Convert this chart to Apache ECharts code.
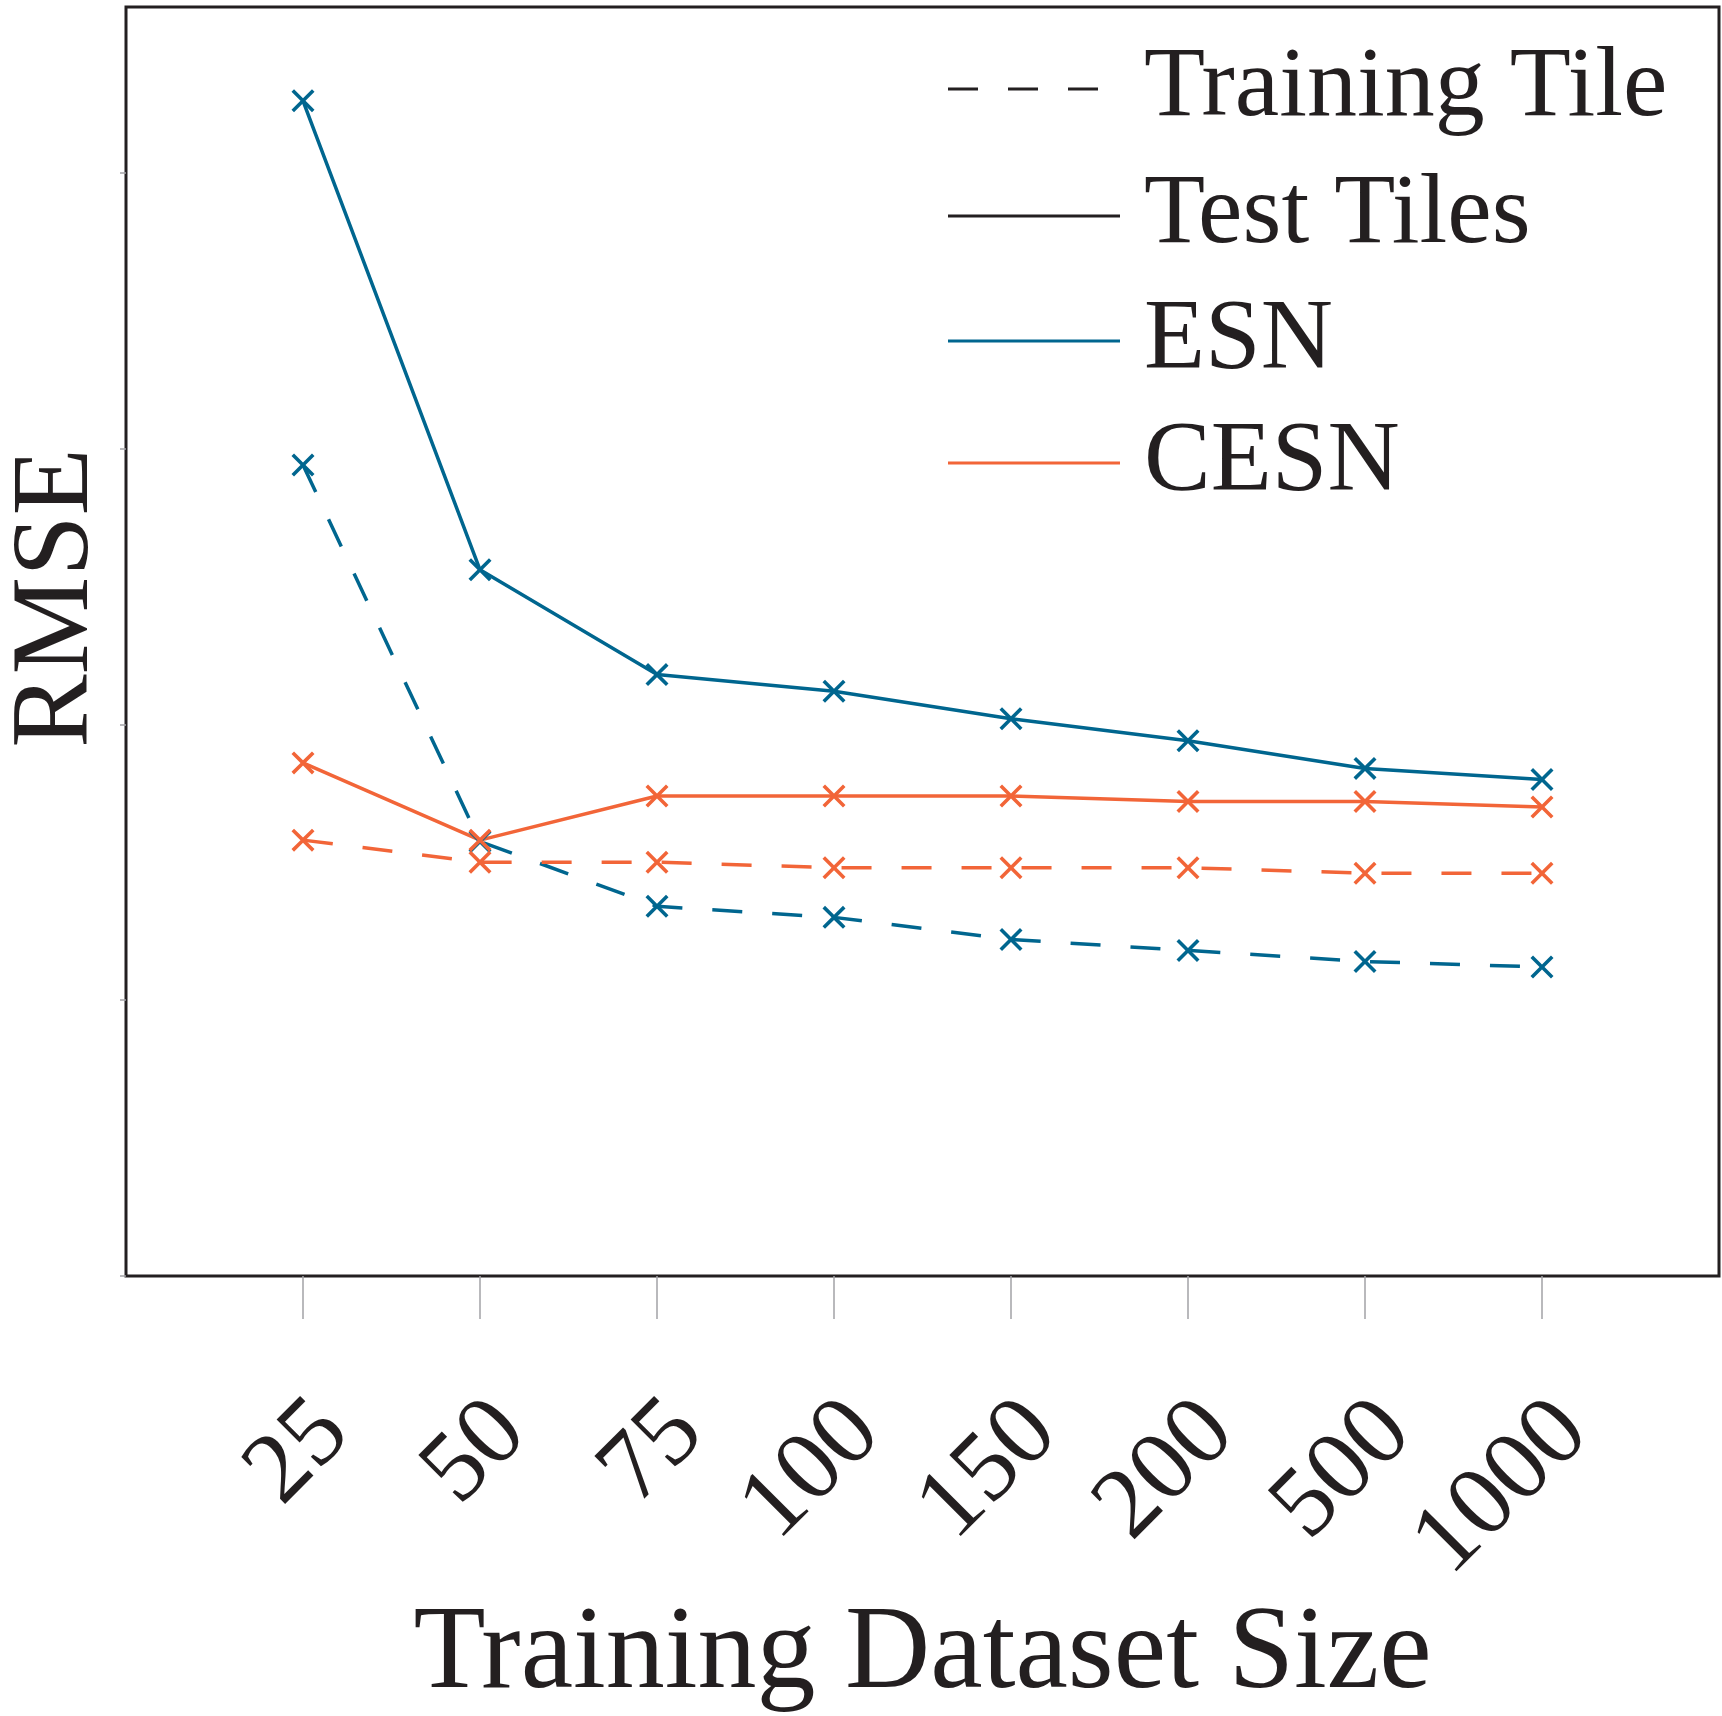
<!DOCTYPE html>
<html>
<head>
<meta charset="utf-8">
<script src="https://cdn.jsdelivr.net/npm/echarts@6/dist/echarts.min.js"></script>
<style>
  html, body { margin: 0; padding: 0; background: #ffffff; }
  #chart { width: 1722px; height: 1716px; }
</style>
</head>
<body>
<div id="chart"></div>
<script>
// Training dataset sizes (x categories)
const sizes = ['25', '50', '75', '100', '150', '200', '500', '1000'];

// RMSE on the test tiles
const esnTest = [4.26, 2.56, 2.18, 2.12, 2.02, 1.94, 1.84, 1.80];
const cesnTest = [1.86, 1.58, 1.74, 1.74, 1.74, 1.72, 1.72, 1.70];

// RMSE on the training tile
const esnTrain = [2.94, 1.575, 1.34, 1.30, 1.22, 1.18, 1.14, 1.12];
const cesnTrain = [1.58, 1.50, 1.50, 1.48, 1.48, 1.48, 1.46, 1.46];

// Y ticks (no labels shown)
const yTicks = [0, 1, 2, 3, 4];

const BLUE = '#00668f';
const ORANGE = '#f26538';
const INK = '#231f20';
const FONT = "'Liberation Serif', 'DejaVu Serif', serif";
const DASH = [30, 30];
const CROSS = 'path://M11,0L50,39L89,0L100,11L61,50L100,89L89,100L50,61L11,100L0,89L39,50L0,11Z';

const xPos = sizes.map((_, i) => i + 1);
const toPoints = arr => arr.map((v, i) => [i + 1, v]);

function dataSeries(name, values, color, dashed) {
  return {
    name: name,
    type: 'line',
    data: toPoints(values),
    color: color,
    symbol: CROSS,
    symbolSize: 23,
    symbolKeepAspect: true,
    itemStyle: { color: color, borderWidth: 0 },
    lineStyle: { color: color, width: 3.5, type: dashed ? DASH : 'solid' },
    emphasis: { disabled: true },
    clip: false
  };
}

function legendOnlySeries(name, dashed) {
  return {
    name: name,
    type: 'line',
    data: [],
    color: INK,
    symbol: 'none',
    itemStyle: { color: INK },
    lineStyle: { color: INK, width: 3, type: dashed ? DASH : 'solid' }
  };
}

const legendRows = [
  { name: 'Training Tile', icon: 'path://M0,0h30v3h-30zM60,0h30v3h-30zM120,0h30v3h-30z', width: 150, center: 89 },
  { name: 'Test Tiles', icon: 'path://M0,0h172v3h-172z', width: 172, center: 216 },
  { name: 'ESN', icon: 'path://M0,0h172v3h-172z', width: 172, center: 341 },
  { name: 'CESN', icon: 'path://M0,0h172v3h-172z', width: 172, center: 463 }
];

const legends = legendRows.map(r => ({
  data: [{ name: r.name, icon: r.icon }],
  left: 948,
  top: r.center - 50,
  padding: 0,
  itemWidth: r.width,
  itemHeight: 3,
  selectedMode: false,
  itemStyle: { borderWidth: 0 },
  textStyle: {
    fontFamily: FONT,
    fontSize: 100,
    lineHeight: 100,
    color: INK,
    padding: [0, 0, 0, 1144 - 948 - r.width - 5]
  }
}));

const chart = echarts.init(document.getElementById('chart'), null, { renderer: 'canvas' });

chart.setOption({
  animation: false,
  backgroundColor: '#ffffff',
  grid: {
    left: 126,
    right: 3,
    top: 7,
    bottom: 440,
    show: true,
    borderColor: INK,
    borderWidth: 3,
    containLabel: false,
    outerBoundsMode: 'none'
  },
  legend: legends,
  xAxis: {
    type: 'value',
    min: 0,
    max: 9,
    interval: 1,
    name: 'Training Dataset Size',
    nameLocation: 'middle',
    nameGap: 321,
    nameMoveOverlap: false,
    nameTextStyle: { fontFamily: FONT, fontSize: 118, color: INK },
    axisLine: { show: false },
    splitLine: { show: false },
    axisTick: {
      show: true,
      customValues: xPos,
      length: 43,
      lineStyle: { color: '#a3a3a6', width: 1.5 }
    },
    axisLabel: {
      customValues: xPos,
      formatter: v => sizes[Math.round(v) - 1] || '',
      rotate: 45,
      align: 'right',
      verticalAlign: 'top',
      margin: 102,
      padding: [0, 6, 0, 0],
      fontFamily: FONT,
      fontSize: 100,
      color: INK,
      hideOverlap: false
    }
  },
  yAxis: {
    type: 'value',
    min: 0,
    max: 4.6,
    interval: 1,
    name: 'RMSE',
    nameLocation: 'middle',
    nameRotate: 90,
    nameGap: 13,
    nameMoveOverlap: false,
    nameTextStyle: {
      fontFamily: FONT,
      fontSize: 110,
      color: INK,
      padding: [0, 0, 0, 87]
    },
    axisLine: { show: false },
    splitLine: { show: false },
    axisLabel: { show: false },
    axisTick: {
      show: true,
      customValues: yTicks,
      length: 6,
      lineStyle: { color: '#a3a3a6', width: 1.5 }
    }
  },
  series: [
    dataSeries('ESN training', esnTrain, BLUE, true),
    dataSeries('ESN', esnTest, BLUE, false),
    dataSeries('CESN', cesnTest, ORANGE, false),
    dataSeries('CESN training', cesnTrain, ORANGE, true),
    legendOnlySeries('Training Tile', true),
    legendOnlySeries('Test Tiles', false)
  ]
});
</script>
</body>
</html>
